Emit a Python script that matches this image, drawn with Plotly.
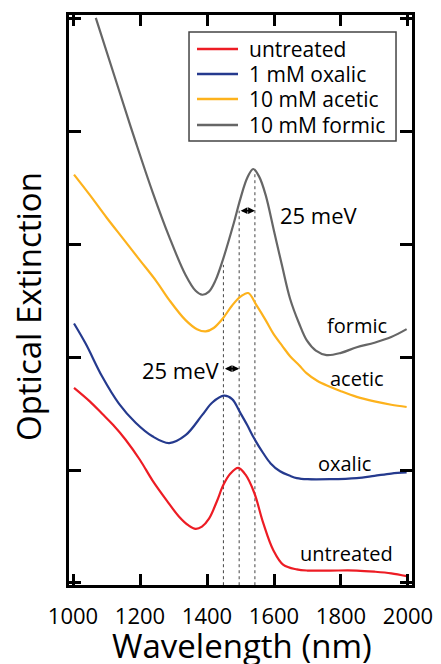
import plotly.graph_objects as go

# ---- data ----
formic_nm = [1068, 1137, 1187, 1237, 1287, 1336, 1366, 1386, 1405, 1425, 1449, 1479, 1500, 1520, 1538, 1556, 1575,
             1600, 1625, 1648, 1675, 1698, 1725, 1757, 1800, 1847, 1900, 1950, 1996]
formic_y = [5.01, 4.37, 3.91, 3.47, 3.07, 2.73, 2.59, 2.555, 2.58, 2.68, 2.88, 3.18, 3.41, 3.59, 3.67, 3.60, 3.44,
            3.12, 2.80, 2.52, 2.30, 2.15, 2.06, 2.02, 2.04, 2.09, 2.13, 2.18, 2.25]

acetic_nm = [1003, 1050, 1100, 1150, 1200, 1250, 1287, 1336, 1370, 1396, 1420, 1446, 1475, 1501, 1523,
             1548, 1575, 1598, 1625, 1648, 1675, 1697, 1730, 1767, 1800, 1847, 1900, 1950, 1996]
acetic_y = [3.62, 3.44, 3.24, 3.05, 2.86, 2.67, 2.51, 2.33, 2.25, 2.23, 2.26, 2.34, 2.46, 2.54, 2.57,
            2.46, 2.33, 2.21, 2.10, 2.01, 1.93, 1.86, 1.79, 1.74, 1.70, 1.65, 1.61, 1.58, 1.56]

oxalic_nm = [1003, 1038, 1087, 1137, 1187, 1237, 1287, 1336, 1386, 1416, 1451, 1475, 1499, 1520, 1541,
             1568, 1590, 1618, 1648, 1668, 1700, 1767, 1847, 1900, 1950, 1996]
oxalic_y = [2.30, 2.12, 1.83, 1.59, 1.42, 1.30, 1.24, 1.31, 1.49, 1.60, 1.66, 1.63, 1.51, 1.40, 1.28,
            1.15, 1.06, 0.99, 0.95, 0.93, 0.92, 0.92, 0.93, 0.95, 0.97, 0.98]

untreated_nm = [1003, 1050, 1087, 1120, 1157, 1200, 1237, 1280, 1316, 1345, 1366, 1385, 1406, 1429, 1449,
                1470, 1493, 1515, 1541, 1568, 1598, 1628, 1668, 1700, 1767, 1847, 1900, 1950, 1996]
untreated_y = [1.73, 1.61, 1.50, 1.40, 1.27, 1.09, 0.91, 0.73, 0.59, 0.51, 0.48, 0.50, 0.57, 0.72, 0.87,
               0.97, 1.02, 0.96, 0.80, 0.53, 0.29, 0.16, 0.12, 0.11, 0.11, 0.11, 0.10, 0.085, 0.06]

series_names = ["untreated", "1 mM oxalic", "10 mM acetic", "10 mM formic"]
series_colors = ["#ED1C24", "#253A8E", "#FDB21C", "#666666"]

# dotted guide lines (peak positions) and their top ends
guide_nm = [1449, 1496, 1543]
guide_top = [2.82, 3.30, 3.66]

# energy-shift arrows
arrow_x0 = [1496, 1449]
arrow_x1 = [1543, 1496]
arrow_y = [3.30, 1.90]
arrow_text = ["25 meV", "25 meV"]

curve_labels = ["formic", "acetic", "oxalic", "untreated"]
label_nm = [1847, 1849, 1811, 1817]
label_y = [2.28, 1.81, 1.06, 0.26]

x_ticks = [1000, 1200, 1400, 1600, 1800, 2000]
y_ticks = [0, 1, 2, 3, 4, 5]

FONT = "Open Sans"

fig = go.Figure()
data = [(untreated_nm, untreated_y), (oxalic_nm, oxalic_y), (acetic_nm, acetic_y), (formic_nm, formic_y)]
for (xs, ys), name, col in zip(data, series_names, series_colors):
    fig.add_trace(go.Scatter(x=xs, y=ys, mode="lines", name=name, showlegend=False,
                             line=dict(color=col, width=2.2, shape="spline", smoothing=1.0)))

shapes = []
for gx, gt in zip(guide_nm, guide_top):
    shapes.append(dict(type="line", xref="x", yref="y", x0=gx, x1=gx, y0=-0.02, y1=gt,
                       line=dict(color="#444444", width=1, dash="dot"), layer="below"))

annotations = []
for x0, x1, yy in zip(arrow_x0, arrow_x1, arrow_y):
    annotations.append(dict(x=x1, y=yy, ax=x0, ay=yy, xref="x", yref="y", axref="x", ayref="y",
                            text="", showarrow=True, arrowhead=2, arrowside="end+start",
                            arrowsize=0.85, arrowwidth=1.6, arrowcolor="black", standoff=0, startstandoff=0))
annotations.append(dict(x=1612, y=3.26, xref="x", yref="y", text=arrow_text[0], showarrow=False,
                        xanchor="left", yanchor="middle", font=dict(family=FONT, size=22, color="black")))
annotations.append(dict(x=1445, y=1.89, xref="x", yref="y", text=arrow_text[1], showarrow=False,
                        xanchor="right", yanchor="middle", font=dict(family=FONT, size=22, color="black")))
for t, lx, ly in zip(curve_labels, label_nm, label_y):
    annotations.append(dict(x=lx, y=ly, xref="x", yref="y", text=t, showarrow=False,
                            xanchor="center", yanchor="middle", font=dict(family=FONT, size=20, color="black")))

# ---- legend drawn as a boxed key ----
leg_x0, leg_x1, leg_y0, leg_y1 = 0.3499, 0.9534, 0.7789, 0.9702
leg_line_x0, leg_line_x1, leg_text_x = 0.3732, 0.4927, 0.519
leg_rows = [0.9404, 0.8965, 0.8526, 0.8070]
shapes.append(dict(type="rect", xref="paper", yref="paper", x0=leg_x0, x1=leg_x1, y0=leg_y0, y1=leg_y1,
                   line=dict(color="#444444", width=1.5), fillcolor="white", layer="above"))
for name, col, ry in zip(series_names, series_colors, leg_rows):
    shapes.append(dict(type="line", xref="paper", yref="paper", x0=leg_line_x0, x1=leg_line_x1, y0=ry, y1=ry,
                       line=dict(color=col, width=2.5), layer="above"))
    annotations.append(dict(x=leg_text_x, y=ry, xref="paper", yref="paper", text=name, showarrow=False,
                            xanchor="left", yanchor="middle", height=24, valign="middle",
                            font=dict(family=FONT, size=21, color="black")))

# axis titles
annotations.append(dict(x=-0.1195, y=0.4877, xref="paper", yref="paper", text="Optical Extinction",
                        textangle=-90, showarrow=False, xanchor="center", yanchor="middle",
                        font=dict(family=FONT, size=33, color="black")))
annotations.append(dict(x=0.503, y=-0.0639, xref="paper", yref="paper", text="Wavelength (nm)",
                        showarrow=False, xanchor="center", yanchor="top",
                        font=dict(family=FONT, size=33, color="black")))

axis_common = dict(showline=True, linecolor="black", linewidth=2.5, mirror="ticks", ticks="inside",
                   tickcolor="black", tickwidth=2.5, showgrid=False, zeroline=False, automargin=False)

fig.update_layout(
    width=441, height=664,
    margin=dict(l=69, r=29, t=15, b=79, autoexpand=False),
    paper_bgcolor="white", plot_bgcolor="white",
    font=dict(family=FONT, color="black"),
    xaxis=dict(range=[988, 2012], tickvals=x_ticks, ticklen=11, ticklabelstandoff=10,
               tickfont=dict(family=FONT, size=22, color="black"),
               **axis_common),
    yaxis=dict(range=[-0.018, 5.035], tickvals=y_ticks, ticklen=12, showticklabels=False,
               **axis_common),
    shapes=shapes, annotations=annotations,
    showlegend=False,
)

fig.write_html("out.html")
